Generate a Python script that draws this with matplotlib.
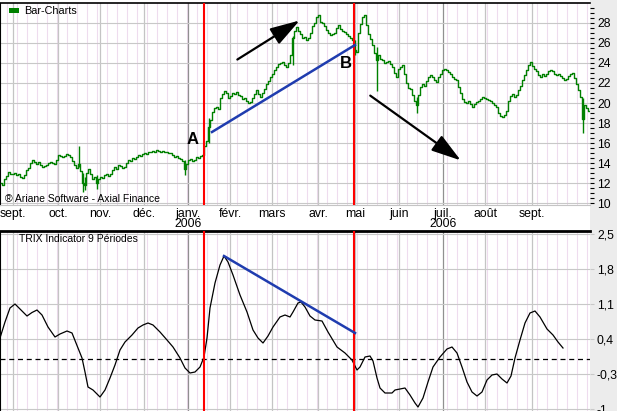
import numpy as np
import matplotlib
matplotlib.use("Agg")
import matplotlib.pyplot as plt
from matplotlib.patches import Rectangle

plt.rcParams['font.family'] = ['Liberation Sans', 'DejaVu Sans']

# cours de clôture (un point par séance)
closes = [
    12.0, 11.8, 12.4, 12.7, 13.1, 12.9, 12.9, 13.0, 12.8, 12.9,
    12.6, 12.5, 12.8, 13.3, 13.5, 14.0, 14.3, 14.1, 13.9, 14.1,
    13.8, 13.6, 13.7, 13.8, 14.0, 14.1, 14.0, 13.9, 14.3, 14.8,
    14.7, 14.6, 14.7, 14.9, 14.8, 14.6, 14.2, 13.8, 13.5, 13.9,
    13.2, 12.0, 11.8, 13.0, 13.4, 12.9, 12.4, 12.6, 12.0, 12.4,
    12.6, 12.5, 12.8, 12.9, 12.7, 12.9, 13.3, 13.6, 13.4, 13.8,
    13.7, 13.5, 13.6, 14.0, 14.3, 14.2, 14.5, 14.4, 14.6, 14.8,
    14.7, 14.9, 15.0, 14.9, 15.1, 15.1, 15.2, 15.1, 15.3, 15.2,
    15.1, 15.2, 15.1, 15.1, 15.0, 15.0, 14.8, 14.6, 14.7, 14.5,
    14.4, 14.2, 13.4, 13.9, 14.3, 14.4, 14.2, 14.3, 14.6, 14.5,
    14.7, 14.8, 15.7, 16.2, 17.6, 18.3, 19.1, 19.5, 19.6, 19.4,
    20.5, 20.9, 21.2, 21.0, 20.5, 20.7, 21.0, 20.9, 21.1, 20.8,
    20.7, 20.4, 20.5, 20.2, 20.0, 20.1, 20.5, 20.9, 21.3, 20.9,
    20.6, 21.0, 21.4, 21.9, 22.2, 22.6, 22.9, 23.3, 23.6, 23.9,
    24.0, 24.1, 23.8, 23.6, 24.0, 24.8, 26.5, 27.2, 27.6, 27.2,
    26.9, 26.5, 26.6, 26.3, 26.5, 27.0, 27.7, 28.0, 28.6, 28.8,
    28.1, 28.0, 27.7, 27.3, 27.0, 26.8, 26.9, 27.0, 27.5, 27.8,
    27.4, 27.2, 27.1, 26.9, 26.7, 26.5, 26.3, 25.3, 25.1, 27.0,
    27.9, 28.6, 28.8, 27.8, 26.9, 26.4, 25.8, 25.0, 24.3, 24.8,
    24.4, 24.3, 24.0, 24.1, 24.2, 23.9, 23.6, 23.0, 22.6, 23.4,
    23.6, 23.8, 22.9, 22.0, 21.5, 21.4, 20.8, 20.2, 19.8, 20.8,
    21.6, 21.9, 21.7, 22.2, 22.6, 22.8, 22.6, 22.3, 22.1, 22.6,
    22.9, 23.3, 23.4, 23.3, 23.1, 22.9, 22.6, 22.4, 22.3, 21.6,
    21.0, 20.4, 20.1, 20.0, 20.2, 19.9, 19.6, 19.9, 20.1, 20.2,
    20.4, 20.6, 20.5, 20.4, 20.3, 20.2, 20.0, 19.8, 19.6, 19.0,
    18.7, 18.6, 18.8, 19.2, 20.2, 20.7, 20.9, 20.6, 20.8, 21.3,
    21.7, 22.3, 22.8, 23.3, 23.8, 24.1, 23.7, 23.4, 23.2, 22.8,
    22.6, 22.9, 22.7, 22.9, 23.2, 23.3, 23.2, 22.9, 22.8, 22.9,
    22.7, 22.5, 22.3, 22.4, 22.7, 22.9, 23.0, 22.5, 21.9, 21.3,
    20.6, 18.4, 19.8, 19.5, 19.2,
]

# grandes mèches (séance, plus bas, plus haut)
spike_day = [39, 41, 42, 48, 92, 104, 146, 177, 188, 208, 291]
spike_low = [13.6, 11.1, 11.3, 11.4, 12.8, 16.0, 23.8, 24.8, 21.2, 19.0, 17.0]
spike_high = [15.7, 13.0, 12.6, 12.8, 14.3, 18.5, 26.7, 26.3, 25.6, 20.6, 20.5]

# TRIX 9 périodes
trix_day = [-0.5, 2, 4.5, 7, 9.5, 13, 15.5, 18, 20.5, 23.5, 27, 29.5, 33, 35.5,
            38.5, 40.5, 42, 43.5, 46, 49.5, 52, 54.5, 57, 59.5, 62, 65.5, 68.5,
            71, 73.5, 76, 79.5, 83, 86, 89.5, 92, 94.5, 97, 99.5, 101.5, 103,
            104.5, 107, 109.5, 111.5, 113.5, 116, 119.5, 123, 126, 128.5, 131,
            133.5, 136, 139.5, 142, 144.5, 146, 148.5, 150, 152, 154.5, 157,
            160.5, 163.5, 168, 172, 175.5, 178, 179.5, 182, 184.5, 186, 188,
            189.5, 192, 195.5, 197, 199.5, 202, 204.5, 207, 208.5, 211, 213.5,
            216, 219.5, 223, 225.5, 228, 230.5, 233, 235.5, 238, 240.5, 243,
            245.5, 248, 250.5, 253, 255, 257, 259.5, 262, 264.5, 267, 269.5,
            273, 276, 278.5, 281]
trix_val = [0.42, 0.74, 1.02, 1.10, 1.00, 0.86, 0.93, 0.98, 0.88, 0.64, 0.44, 0.50,
            0.56, 0.52, 0.22, 0.02, -0.26, -0.56, -0.62, -0.76, -0.62, -0.38,
            -0.12, 0.18, 0.34, 0.48, 0.62, 0.68, 0.72, 0.68, 0.54, 0.38, 0.24,
            0.02, -0.18, -0.28, -0.26, -0.16, 0.04, 0.42, 1.02, 1.52, 1.88, 2.06,
            1.94, 1.68, 1.28, 0.94, 0.58, 0.42, 0.32, 0.46, 0.64, 0.84, 0.88,
            0.84, 0.94, 1.12, 1.14, 1.04, 0.86, 0.78, 0.76, 0.54, 0.24, 0.12,
            -0.02, -0.22, -0.16, 0.04, 0.06, -0.04, -0.38, -0.58, -0.68, -0.68,
            -0.62, -0.60, -0.58, -0.72, -0.88, -0.96, -0.78, -0.46, -0.16, 0.04,
            0.20, 0.24, 0.12, -0.16, -0.46, -0.66, -0.74, -0.66, -0.42, -0.32,
            -0.30, -0.40, -0.48, -0.34, 0.02, 0.38, 0.72, 0.92, 0.96, 0.84, 0.60,
            0.48, 0.34, 0.22]

# axe des temps
months = ['sept.', 'oct.', 'nov.', 'déc.', 'janv.\n2006', 'févr.', 'mars', 'avr.',
          'mai', 'juin', 'juil.\n2006', 'août', 'sept.']
month_day = [6, 28.5, 49.5, 71.5, 93.5, 114.5, 135.5, 158.5, 177, 199, 221, 242, 265.5]
year_day = [93.5, 221]

# annotations
signal_day = [101.5, 176.5]
trend_price_x = [105.5, 177]
trend_price_y = [17.1, 25.8]
trend_trix_x = [111.5, 177]
trend_trix_y = [2.06, 0.52]

W, H = 617, 411
fig = plt.figure(figsize=(W / 100, H / 100), dpi=100)
fig.patches.append(Rectangle((590 / W, 0), 27 / W, 1, transform=fig.transFigure,
                             facecolor='#ececec', edgecolor='none', zorder=-5))

ax1 = fig.add_axes([0, 1 - 205 / H, 590 / W, 202 / H])
ax2 = fig.add_axes([0, 0, 590 / W, 180 / H])

days = np.arange(len(closes))
for ax in (ax1, ax2):
    ax.set_xlim(-0.5, 294.5)
    for d in np.arange(3, 295, 5):
        ax.axvline(d, color='#efdcef', lw=0.8, zorder=0)
    for d in month_day:
        c = '#909090' if d in year_day else '#c4c4c4'
        ax.axvline(d, color=c, lw=0.9, zorder=0.5)
    for d in signal_day:
        ax.axvline(d, color='#ff0000', lw=1.5, zorder=5)
    ax.spines['right'].set_visible(False)
    ax.spines['left'].set_color('black')

# --- panneau cours
ax1.set_ylim(9.8, 30.0)
ax1.plot(days, closes, color='#008000', lw=1.0, drawstyle='steps-mid', zorder=3)
ax1.vlines(spike_day, spike_low, spike_high, color='#008000', lw=1.0, zorder=3)
ax1.plot(trend_price_x, trend_price_y, color='#1f3caf', lw=1.8, zorder=6)
ax1.yaxis.tick_right()
ax1.set_yticks(np.arange(10, 29, 2))
ax1.set_yticks(np.arange(10, 30, 0.5), minor=True)
ax1.grid(axis='y', color='#c8c8c8', lw=0.8, zorder=0)
ax1.tick_params(axis='y', which='both', direction='out', length=3, width=0.8,
                labelsize=8.8, pad=2)
ax1.set_xticks(month_day)
ax1.set_xticklabels(months)
ax1.tick_params(axis='x', length=0, pad=2, labelsize=8.8)
for lbl in ax1.get_xticklabels():
    lbl.set_linespacing(0.8)
ax1.spines['bottom'].set_color('#c4c4c4')
ax1.spines['top'].set_linewidth(1.2)

ax1.annotate('', xy=(150.5, 28.4), xytext=(117, 24.2),
             arrowprops=dict(arrowstyle='-|>,head_length=1.3,head_width=0.4',
                             color='black', lw=1.6, mutation_scale=14))
ax1.annotate('', xy=(231, 14.1), xytext=(183.5, 20.9),
             arrowprops=dict(arrowstyle='-|>,head_length=1.3,head_width=0.4',
                             color='black', lw=1.6, mutation_scale=14))
ax1.text(96, 16.4, 'A', fontsize=12, fontweight='bold', ha='center', va='center')
ax1.text(172.5, 23.9, 'B', fontsize=12, fontweight='bold', ha='center', va='center')

fig.patches.append(Rectangle((9 / W, 1 - 13 / H), 10 / W, 5 / H, transform=fig.transFigure,
                             facecolor='#008000', edgecolor='none', zorder=10))
fig.text(24 / W, 1 - 10.5 / H, 'Bar-Charts', fontsize=7.8, va='center', ha='left')
fig.text(5 / W, 1 - 199 / H, '® Ariane Software - Axial Finance', fontsize=7.5,
         va='center', ha='left')

# --- panneau TRIX
ax2.set_ylim(-1.04, 2.56)
ax2.plot(trix_day, trix_val, color='black', lw=0.9, zorder=3)
ax2.plot(trend_trix_x, trend_trix_y, color='#1f3caf', lw=1.8, zorder=6)
ax2.axhline(0, color='black', lw=0.9, ls=(0, (4, 3)), zorder=2)
trix_ticks = [-1.0, -0.3, 0.4, 1.1, 1.8, 2.5]
ax2.yaxis.tick_right()
ax2.set_yticks(trix_ticks)
ax2.set_yticklabels(['-1'] + [f'{v:.1f}'.replace('.', ',') for v in trix_ticks[1:]])
ax2.grid(axis='y', color='#c8c8c8', lw=0.8, zorder=0)
ax2.tick_params(axis='y', direction='out', length=3, width=0.8, color='#c8c8c8',
                labelsize=8.8, pad=2)
ax2.set_xticks([])
ax2.spines['top'].set_linewidth(2.0)
ax2.spines['bottom'].set_visible(False)
ax2.text(9, 2.4, 'TRIX Indicator 9 Périodes', fontsize=7.5, va='center', ha='left')

fig.savefig('out.png', dpi=100)
